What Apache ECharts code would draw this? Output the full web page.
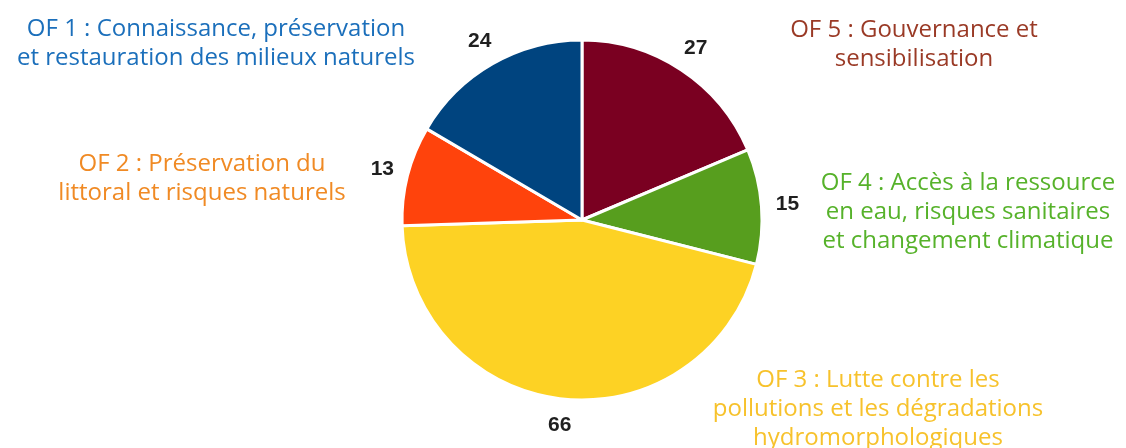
<!DOCTYPE html>
<html>
<head>
<meta charset="utf-8">
<script src="https://cdn.jsdelivr.net/npm/echarts@6/dist/echarts.min.js"></script>
<style>
  html, body { margin: 0; padding: 0; background: #ffffff; }
  #chart { width: 1126px; height: 448px; }
</style>
</head>
<body>
<div id="chart"></div>
<script>
// Orientations fondamentales, in clockwise order from 12 o'clock
const categories = [
  'OF 5 : Gouvernance et\nsensibilisation',
  'OF 4 : Accès à la ressource\nen eau, risques sanitaires\net changement climatique',
  'OF 3 : Lutte contre les\npollutions et les dégradations\nhydromorphologiques',
  'OF 2 : Préservation du\nlittoral et risques naturels',
  'OF 1 : Connaissance, préservation\net restauration des milieux naturels'
];
const values = [27, 15, 66, 13, 24];
const sliceColors = ['#7a0021', '#579e1e', '#fdd224', '#ff430c', '#00447f'];
const textColors = ['#9a3a26', '#56b22a', '#f7c22c', '#f08a24', '#1b6fbb'];

// where each category caption sits on the page
const captionPos = [
  [914, 45],
  [968, 212],
  [878, 409],
  [202, 179],
  [216, 44]
];

const chart = echarts.init(document.getElementById('chart'), null, { renderer: 'canvas' });

const center = [582, 220];
const baseFont = '"Open Sans", Lato, "Noto Sans", sans-serif';

const pieData = categories.map((name, i) => ({
  name: name,
  value: values[i],
  itemStyle: { color: sliceColors[i] }
}));

chart.setOption({
  backgroundColor: '#ffffff',
  animation: false,
  series: [
    {
      type: 'pie',
      center: center,
      radius: [0, 180],
      startAngle: 90,
      clockwise: true,
      data: pieData,
      itemStyle: { borderColor: '#ffffff', borderWidth: 3 },
      label: { show: false },
      labelLine: { show: false },
      emphasis: { disabled: true }
    },
    {
      // thin invisible ring just outside the pie carrying the value labels
      type: 'pie',
      center: center,
      radius: [194, 212],
      startAngle: 90,
      clockwise: true,
      silent: true,
      data: categories.map((name, i) => ({ name: name, value: values[i] })),
      itemStyle: { color: 'rgba(0,0,0,0)' },
      label: {
        show: true,
        position: 'inside',
        formatter: '{c}',
        color: '#1f1f1f',
        fontSize: 21,
        fontWeight: 'bold',
        fontFamily: '"Liberation Sans", Arial, sans-serif'
      },
      labelLine: { show: false },
      emphasis: { disabled: true }
    }
  ],
  graphic: categories.map((name, i) => ({
    type: 'text',
    x: captionPos[i][0],
    y: captionPos[i][1],
    silent: true,
    style: {
      text: name,
      fill: textColors[i],
      font: '24px ' + baseFont,
      lineHeight: 29,
      align: 'center',
      verticalAlign: 'middle'
    }
  }))
});
</script>
</body>
</html>
